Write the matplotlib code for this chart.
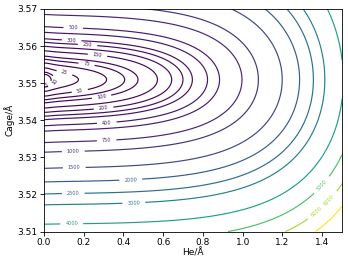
import matplotlib
matplotlib.use('Agg')
import matplotlib.pyplot as plt
import numpy as np

# contour levels drawn in the figure
levels = [5, 10, 25, 50, 75, 100, 150, 200, 250, 300, 400, 500, 750,
          1000, 1500, 2000, 2500, 3000, 4000, 5000, 6000, 7000]

# where each level crosses He = 0, Cage in Angstrom
cage_min = 3.5505
lower_levels = [5, 10, 25, 50, 75, 100, 150, 200, 250, 300, 400, 500, 750,
                1000, 1500, 2000, 2500, 3000, 4000]
cage_lower = [3.5492, 3.5487, 3.5476, 3.5464, 3.5455, 3.5447, 3.5434, 3.5422,
              3.5412, 3.5403, 3.5388, 3.5373, 3.5341, 3.5314, 3.5270, 3.5233,
              3.5201, 3.5172, 3.5120]
upper_levels = [5, 10, 25, 50, 75, 100, 150, 200, 250, 300, 400, 500, 750]
cage_upper = [3.5522, 3.5528, 3.5541, 3.5556, 3.5566, 3.5575, 3.5590, 3.5601,
              3.5612, 3.5620, 3.5637, 3.5651, 3.5682]

# where each level turns round on the Cage minimum line, He in Angstrom
he_levels = [5, 10, 25, 50, 75, 100, 150, 200, 250, 300, 400, 500, 750,
             1000, 1500, 2000, 2500, 3000, 4000]
he_tip = [0.035, 0.075, 0.17, 0.29, 0.38, 0.45, 0.58, 0.66, 0.71, 0.76, 0.84,
          0.90, 1.01, 1.10, 1.20, 1.29, 1.34, 1.39, 1.48]

# where the contour labels sit (He, Cage)
label_pos = [(0.007, 3.5505), (0.062, 3.5500), (0.106, 3.5533), (0.18, 3.5482),
             (0.215, 3.5552), (0.29, 3.5464), (0.27, 3.5576), (0.30, 3.5434),
             (0.22, 3.5605), (0.14, 3.5616), (0.316, 3.5396), (0.148, 3.5648),
             (0.316, 3.5347), (0.148, 3.5315), (0.153, 3.5272), (0.437, 3.5239),
             (0.148, 3.5202), (0.453, 3.5176), (0.14, 3.5120), (1.369, 3.5239),
             (1.407, 3.5199), (1.394, 3.5140)]

# Cage profile: signed sqrt of energy is smooth through the minimum
cy = np.array(cage_lower + [cage_min] + cage_upper)
cs_ = np.concatenate([-np.sqrt(lower_levels), [0.0], np.sqrt(upper_levels)])
u_fit = np.polyfit((cy - cage_min) * 100, cs_, 3)

# He profile: smooth in log-log
v_fit = np.polyfit(np.log(he_tip), np.log(he_levels), 3)

x = np.linspace(0, 1.5, 400)
y = np.linspace(3.51, 3.57, 400)
X, Y = np.meshgrid(x, y)
U = np.polyval(u_fit, (Y - cage_min) * 100) ** 2
V = np.exp(np.polyval(v_fit, np.log(np.clip(X, 1e-4, None))))
E = U + V

fig = plt.figure(figsize=(3.48, 2.64), dpi=100)
ax = fig.add_axes([0.126, 0.123, 0.857, 0.843])
cs = ax.contour(X, Y, E, levels=levels, cmap='viridis', linewidths=0.85)
ax.clabel(cs, fmt='%d', fontsize=3.6, inline=True, manual=label_pos)

ax.set_xlabel('He/Å', fontsize=6.5, labelpad=1)
ax.set_ylabel('Cage/Å', fontsize=6.5, labelpad=2)
ax.set_xticks([0.0, 0.2, 0.4, 0.6, 0.8, 1.0, 1.2, 1.4])
ax.set_yticks([3.51, 3.52, 3.53, 3.54, 3.55, 3.56, 3.57])
ax.tick_params(labelsize=6.5, length=3, width=0.6, pad=1.5)
for s in ax.spines.values():
    s.set_linewidth(0.6)

fig.savefig('out.png', dpi=100)
